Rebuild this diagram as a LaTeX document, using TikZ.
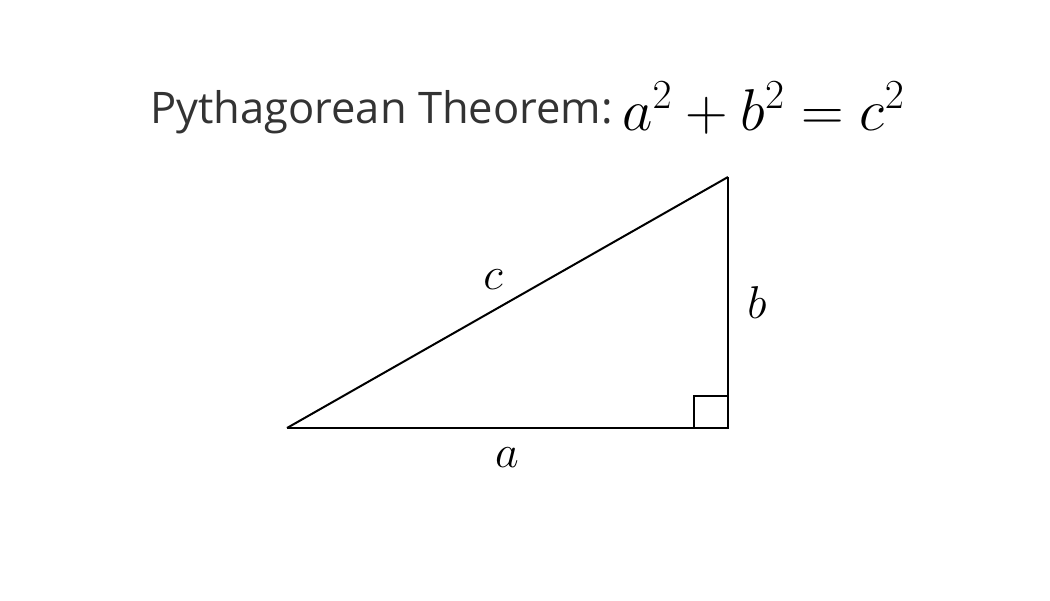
\RequirePackage{fix-cm}
\documentclass[tikz,border=0pt]{standalone}
\usepackage{fontspec}
\setmainfont{Open Sans}
\usetikzlibrary{positioning, calc}
\definecolor{DG}{RGB}{51,51,51}

\begin{document}
\begin{tikzpicture}[x=1pt, y=-1pt,
  title/.style={anchor=base west, inner sep=0pt, text=DG,
                font=\fontsize{43.5}{52}\selectfont},
  formula/.style={anchor=base west, inner sep=0pt,
                  font=\fontsize{59}{70}\selectfont},
  side/.style={draw=black, line width=2.6pt},
  lbl/.style={inner sep=0pt, font=\fontsize{46}{54}\selectfont}
]
\useasboundingbox (0,0) rectangle (1050,600);

% Heading
\node[title] (head) at (150,123) {Pythagorean Theorem:};
\node[formula] (eq) at (622,130) {$a^2+b^2=c^2$};

% Triangle corners
\coordinate (A) at (287,428);
\coordinate (R) at (728,428);
\coordinate (T) at (728,177);

\draw[side, line width=2pt] (A) -- (T);
\draw[side] (A) -- (R) -- (T);

% Right angle mark
\draw[side] ($(R)+(-34,0)$) -- ++(0,-32) -- ++(34,0);

% Side labels
\node[lbl] (lc) at (493,280) {$c$};
\node[lbl] (lb) at (757,303) {$b$};
\node[lbl] (la) at (507,458) {$a$};
\end{tikzpicture}
\end{document}
